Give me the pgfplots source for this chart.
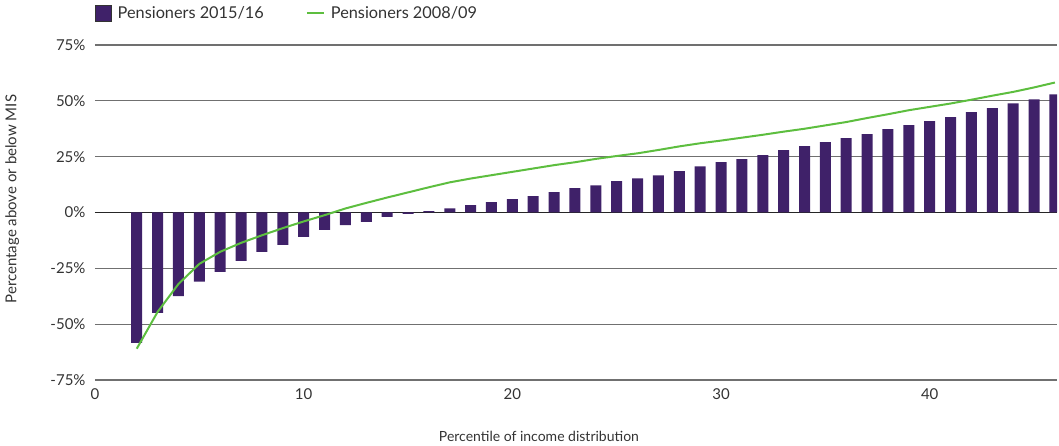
\documentclass[border=0pt]{standalone}
\usepackage{fontspec}
\setmainfont{Lato}
\usepackage{pgfplots}
\pgfplotsset{compat=1.18}
\definecolor{barpurple}{HTML}{3F2169}
\definecolor{linegreen}{HTML}{5DBE3F}
\definecolor{gridgray}{HTML}{707070}
\definecolor{labelgray}{HTML}{333333}
\begin{document}
\begin{tikzpicture}
\begin{axis}[
    name=ax,
    scale only axis,
    width=962pt, height=335pt,
    xmin=0, xmax=46.1,
    ymin=-75, ymax=75,
    axis line style={draw=none},
    major tick length=0pt,
    xtick={0,10,20,30,40},
    xticklabels={0,10,20,30,40},
    ytick={-75,-50,-25,0,25,50,75},
    yticklabels={-75\%,-50\%,-25\%,0\%,25\%,50\%,75\%},
    ticklabel style={font=\fontsize{15pt}{17pt}\selectfont, text=labelgray},
    xticklabel style={yshift=-5pt},
    yticklabel style={xshift=-6pt},
    ymajorgrids=true,
    grid style={gridgray, line width=1.1pt},
    extra y ticks={0},
    extra y tick labels={},
    extra y tick style={grid style={black!85, line width=1.2pt}},
    xlabel={Percentile of income distribution},
    ylabel={Percentage above or below MIS},
    label style={font=\fontsize{14pt}{16pt}\selectfont, text=labelgray},
    xlabel style={at={(axis description cs:0.4615,-0.168)}, anchor=center},
    ylabel style={at={(axis description cs:-0.086,0.54)}, anchor=center,
        font=\fontsize{15pt}{17pt}\selectfont},
    legend style={at={(axis description cs:-0.003,1.096)}, anchor=west,
        draw=none, fill=none, legend columns=-1,
        font=\fontsize{16.3pt}{18pt}\selectfont, text=labelgray,
        /tikz/every odd column/.append style={column sep=4pt},
        /tikz/every even column/.append style={column sep=40pt}},
]
\addplot[ybar, bar width=11pt, fill=barpurple, draw=none,
    legend image code/.code={\filldraw[fill=barpurple, draw=black!80] (0pt,-8pt) rectangle (16pt,8pt);}]
coordinates {
(2,-58.4) (3,-45) (4,-37.5) (5,-31) (6,-26.6) (7,-21.7) (8,-17.6) (9,-14.5)
(10,-10.9) (11,-7.8) (12,-5.6) (13,-4.2) (14,-2.0) (15,-0.6) (16,0.6) (17,1.9)
(18,3.3) (19,4.6) (20,6.0) (21,7.3) (22,9.1) (23,10.9) (24,12.2) (25,14.0)
(26,15.3) (27,16.6) (28,18.5) (29,20.7) (30,22.5) (31,23.9) (32,25.7) (33,27.9)
(34,29.7) (35,31.5) (36,33.3) (37,35.1) (38,37.3) (39,39.1) (40,40.9) (41,42.7)
(42,44.9) (43,46.7) (44,48.9) (45,50.7) (46,52.9)
};
\addplot[sharp plot, linegreen, line width=2pt, mark=none,
    legend image code/.code={\draw[linegreen, line width=2pt] (0pt,0pt) -- (17pt,0pt);}]
coordinates {
(2,-61) (3,-44.5) (4,-32) (5,-23) (6,-17.6) (7,-13.6) (8,-10.2) (9,-7)
(10,-4) (11,-1.2) (12,1.8) (13,4.3) (14,6.7) (15,9) (16,11.3) (17,13.5)
(18,15.2) (19,16.7) (20,18.2) (21,19.7) (22,21.2) (23,22.5) (24,24) (25,25.3)
(26,26.5) (27,28) (28,29.6) (29,31.0) (30,32.2) (31,33.5) (32,34.8) (33,36.2)
(34,37.5) (35,39) (36,40.5) (37,42.3) (38,44) (39,45.8) (40,47.3) (41,48.8)
(42,50.5) (43,52.3) (44,54) (45,56) (46,58.2)
};
\legend{Pensioners 2015/16, Pensioners 2008/09}
\end{axis}
\pgfresetboundingbox
\useasboundingbox ([xshift=-95pt,yshift=-66pt]ax.south west) rectangle ([xshift=2pt,yshift=45pt]ax.north east);
\end{tikzpicture}
\end{document}
